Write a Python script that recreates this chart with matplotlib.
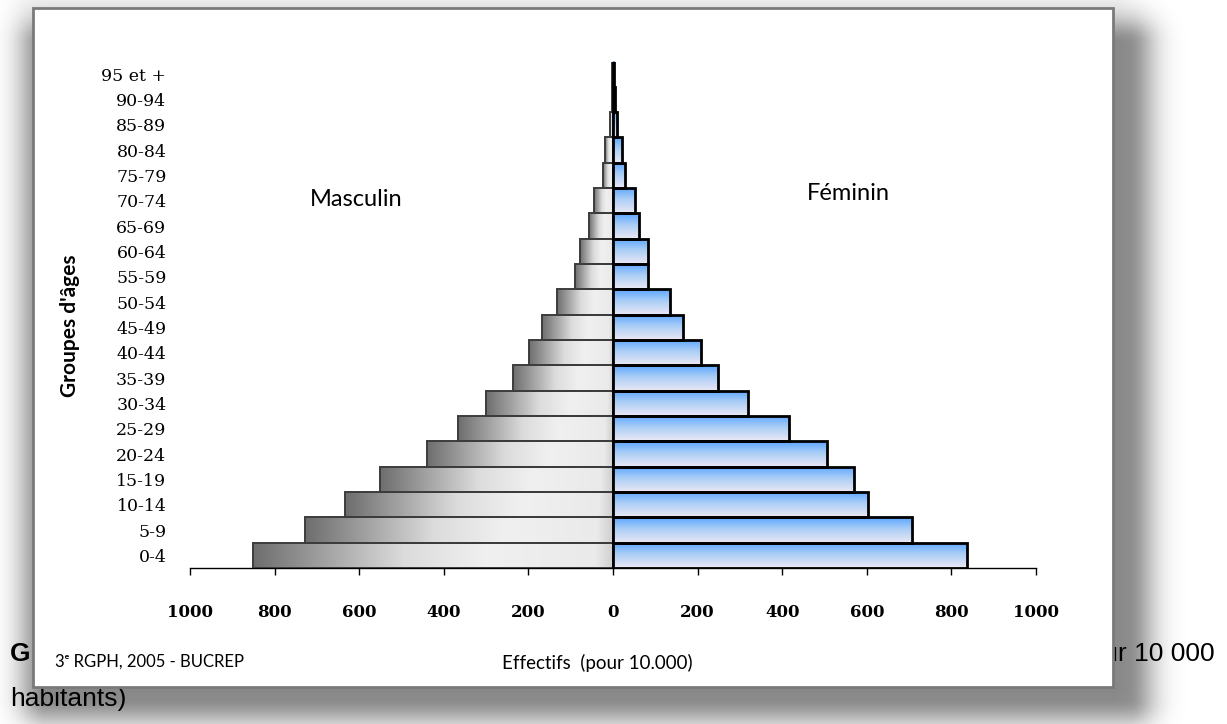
import numpy as np
import matplotlib.pyplot as plt
from matplotlib.colors import LinearSegmentedColormap
from matplotlib.patches import Rectangle

ages = ['0-4', '5-9', '10-14', '15-19', '20-24', '25-29', '30-34', '35-39',
        '40-44', '45-49', '50-54', '55-59', '60-64', '65-69', '70-74',
        '75-79', '80-84', '85-89', '90-94', '95 et +']
male = [852, 727, 633, 550, 440, 366, 301, 237, 198, 167, 133, 91, 78, 56,
        44, 24, 18, 6, 3, 2]
female = [836, 707, 603, 570, 505, 416, 318, 248, 209, 166, 135, 82, 82, 61,
          52, 28, 22, 10, 4, 3]
xticks = [-1000, -800, -600, -400, -200, 0, 200, 400, 600, 800, 1000]

W, H = 1227, 724
fig = plt.figure(figsize=(W / 100, H / 100), dpi=100)
fig.patch.set_facecolor('white')

# background: drop shadow, caption, white panel
bg = fig.add_axes([0, 0, 1, 1], zorder=0)
bg.set_xlim(0, W)
bg.set_ylim(H, 0)
bg.axis('off')

px0, py0, px1, py1 = 33, 8, 1113, 687
xs = np.arange(W) + 0.5
ys = np.arange(H) + 0.5
X, Y = np.meshgrid(xs, ys)

def rect_dist(x0, y0, x1, y1):
    dx = np.maximum(np.maximum(x0 - X, 0), X - x1)
    dy = np.maximum(np.maximum(y0 - Y, 0), Y - y1)
    return np.hypot(dx, dy)

d_sh = rect_dist(px0 + 14, py0 + 36, px1 + 16, py1 + 12)
d_gl = rect_dist(px0, py0, px1, py1)
alpha = 0.42 * np.exp(-(d_sh / 27) ** 2) + 0.05 * np.exp(-(d_gl / 22) ** 2)
shadow = np.zeros((H, W, 4))
shadow[..., 3] = np.clip(alpha, 0, 1)
bg.imshow(shadow, extent=[0, W, H, 0], aspect='auto', zorder=1,
          interpolation='bilinear')

# caption, mostly hidden behind the panel
cap_font = 'Liberation Sans'
bg.text(10, 661, 'G', fontsize=19, fontweight='bold', family=cap_font,
        zorder=2)
bg.text(1215, 661, 'pour 10 000', fontsize=19, family=cap_font, ha='right',
        zorder=2)
bg.text(10, 706, 'habitants)', fontsize=19, family=cap_font, zorder=2)

bg.add_patch(Rectangle((px0, py0), px1 - px0, py1 - py0, facecolor='white',
                       edgecolor='#7a7a7a', lw=2, zorder=3))

# pyramid
ax = fig.add_axes([190 / W, 1 - 568 / H, (1036 - 190) / W, (568 - 61.5) / H],
                  zorder=1)
ax.patch.set_visible(False)

y = np.arange(len(ages))
male_cmap = LinearSegmentedColormap.from_list(
    'm', [(0, '#6e6e6e'), (0.42, '#dcdcdc'), (0.65, '#f0f0f0'),
          (0.95, '#eaeaea'), (1, '#cfcfcf')])
fem_cmap = LinearSegmentedColormap.from_list(
    'f', [(0, '#5aa4ff'), (0.45, '#a9cdf6'), (1, '#ece8f4')])

mbars = ax.barh(y, -np.array(male), height=1.0, facecolor='none',
                edgecolor='#3c3c3c', lw=1.4, zorder=3)
fbars = ax.barh(y, female, height=1.0, facecolor='none',
                edgecolor='black', lw=2.0, zorder=4)

hgrad = np.linspace(0, 1, 256).reshape(1, -1)
vgrad = np.linspace(0, 1, 256).reshape(-1, 1)
for p in mbars:
    x0, w = p.get_x(), p.get_width()
    im = ax.imshow(hgrad, cmap=male_cmap, aspect='auto', zorder=2,
                   extent=[min(x0, x0 + w), max(x0, x0 + w),
                           p.get_y(), p.get_y() + p.get_height()],
                   interpolation='bilinear')
    im.set_clip_path(p)
for p in fbars:
    im = ax.imshow(vgrad, cmap=fem_cmap, aspect='auto', zorder=2,
                   extent=[p.get_x(), p.get_x() + p.get_width(),
                           p.get_y(), p.get_y() + p.get_height()],
                   interpolation='bilinear')
    im.set_clip_path(p)

ax.set_xlim(-1000, 1000)
ax.set_ylim(-0.5, len(ages) - 0.5)
ax.set_xticks(xticks)
ax.set_xticklabels([str(abs(t)) for t in xticks], family='DejaVu Serif',
                   fontsize=12, fontweight='bold')
ax.set_yticks(y)
ax.set_yticklabels(ages, family='DejaVu Serif', fontsize=12.5)
ax.tick_params(axis='y', length=0, pad=17)
ax.tick_params(axis='x', length=5, width=1, direction='out', pad=21)
for s in ['top', 'right', 'left']:
    ax.spines[s].set_visible(False)
ax.spines['bottom'].set_linewidth(1)

def fpos(xp, yp):
    return xp / W, 1 - yp / H

lab = ['Lato', 'DejaVu Sans']
fig.text(*fpos(356, 200), 'Masculin', family=lab, fontsize=17,
         ha='center', va='center')
fig.text(*fpos(848, 194), 'Féminin', family=lab, fontsize=17,
         ha='center', va='center')
fig.text(*fpos(70, 326), "Groupes d'âges", family=lab, fontsize=15,
         fontweight='bold', rotation=90, ha='center', va='center')
fig.text(*fpos(597, 663), 'Effectifs  (pour 10.000)', family=lab,
         fontsize=13.5, ha='center', va='center')
fig.text(*fpos(55, 662), '3ᵉ RGPH, 2005 - BUCREP', family=lab,
         fontsize=12, ha='left', va='center')

fig.savefig('out.png', dpi=100)
